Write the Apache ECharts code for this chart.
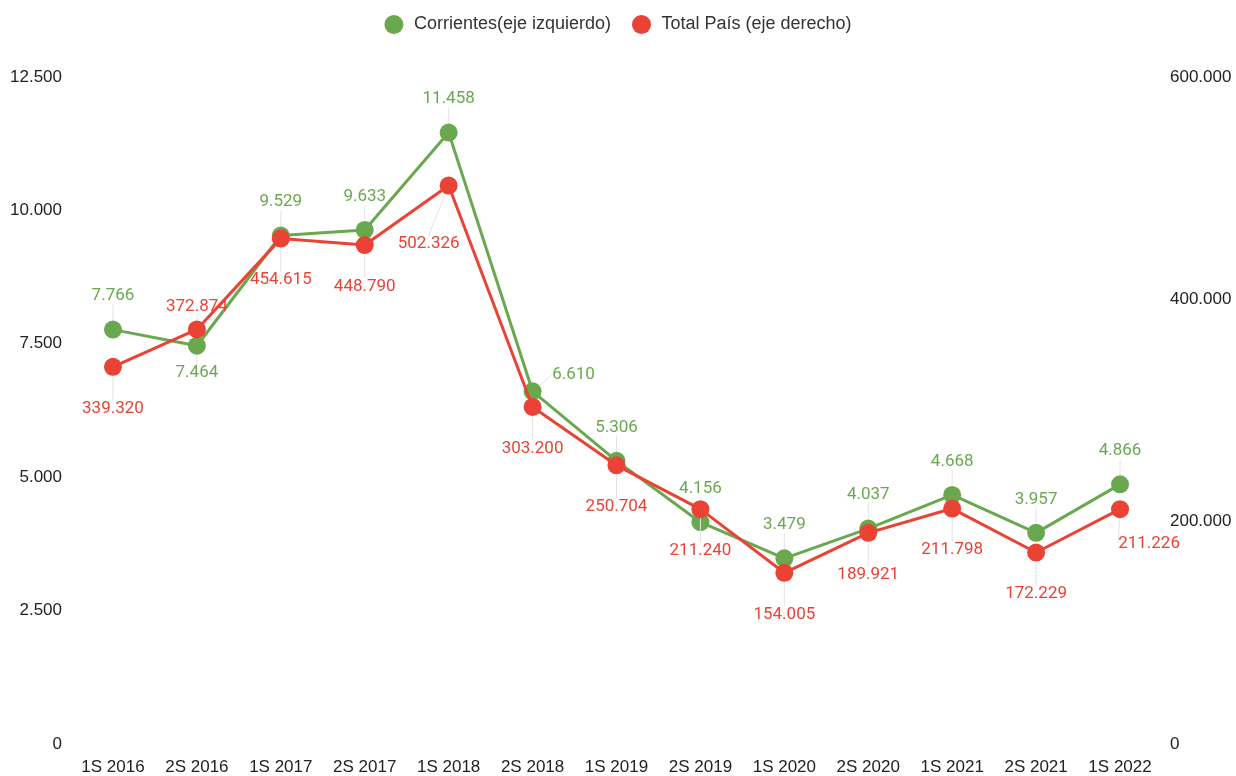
<!DOCTYPE html>
<html lang="es">
<head>
    <meta charset="utf-8">
    <title>Corrientes vs Total País</title>
    <script src="https://cdn.jsdelivr.net/npm/echarts@6/dist/echarts.min.js"></script>
    <style>
        html, body { margin: 0; padding: 0; background: #fff; }
        #chart { width: 1236px; height: 776px; }
    </style>
</head>
<body>
    <div id="chart"></div>
    <script type="text/javascript">

    // datos
    var periodos = ['1S 2016', '2S 2016', '1S 2017', '2S 2017', '1S 2018', '2S 2018', '1S 2019',
                    '2S 2019', '1S 2020', '2S 2020', '1S 2021', '2S 2021', '1S 2022'];
    var corrientes = [7766, 7464, 9529, 9633, 11458, 6610, 5306, 4156, 3479, 4037, 4668, 3957, 4866];
    var totalPais = [339320, 372874, 454615, 448790, 502326, 303200, 250704, 211240, 154005, 189921, 211798, 172229, 211226];

    var VERDE = '#6aa84f', ROJO = '#ea4335';

    // formato con punto de miles
    function miles(v) {
        return String(Math.round(v)).replace(/\B(?=(\d{3})+(?!\d))/g, '.');
    }

    // corrimiento de cada etiqueta (todas parten arriba del punto)
    function layoutVerde(p) {
        if (p.dataIndex === 1) return { dy: 49 };          // 7.464 abajo
        if (p.dataIndex === 5) return { dx: 41, dy: 5 };   // 6.610 a la derecha
        return { dy: -12 };
    }
    function layoutRojo(p) {
        if (p.dataIndex === 1) return { dy: -1 };          // 372.874 arriba
        if (p.dataIndex === 4) return { dx: -20, dy: 80 }; // 502.326
        if (p.dataIndex === 12) return { dx: 29, dy: 56 }; // 211.226
        return { dy: 63 };
    }

    var chart = echarts.init(document.getElementById('chart'));
    chart.setOption({
        animation: false,
        textStyle: { fontFamily: 'Liberation Sans, Arial, sans-serif' },
        legend: {
            top: 10,
            left: 'center',
            icon: 'circle',
            itemWidth: 30,
            itemHeight: 19,
            itemGap: 21,
            textStyle: { fontSize: 18, color: '#333' },
            data: ['Corrientes(eje izquierdo)', 'Total País (eje derecho)']
        },
        grid: { left: 71, right: 74, top: 77, bottom: 31 },
        xAxis: {
            type: 'category',
            data: periodos,
            axisLine: { show: false },
            axisTick: { show: false },
            axisLabel: { fontSize: 17, color: '#222', margin: 15 }
        },
        yAxis: [{
            type: 'value',
            min: 0, max: 12500, interval: 2500,
            splitLine: { show: false },
            axisLabel: { fontSize: 17, color: '#222', margin: 9, formatter: miles }
        }, {
            type: 'value',
            min: 0, max: 600000, interval: 200000,
            splitLine: { show: false },
            axisLabel: { fontSize: 17, color: '#222', margin: 8, formatter: miles }
        }],
        series: [{
            name: 'Corrientes(eje izquierdo)',
            type: 'line',
            yAxisIndex: 0,
            data: corrientes,
            symbol: 'circle',
            symbolSize: 18,
            z: 2,
            itemStyle: { color: VERDE },
            lineStyle: { color: VERDE, width: 3 },
            label: {
                show: true, position: 'top', distance: 4,
                fontFamily: 'Roboto', fontSize: 17, color: VERDE,
                formatter: function (p) { return miles(p.value); }
            },
            labelLayout: layoutVerde,
            labelLine: { show: true, lineStyle: { color: '#e3e3e3', width: 1 } }
        }, {
            name: 'Total País (eje derecho)',
            type: 'line',
            yAxisIndex: 1,
            data: totalPais,
            symbol: 'circle',
            symbolSize: 18,
            z: 3,
            itemStyle: { color: ROJO },
            lineStyle: { color: ROJO, width: 3 },
            label: {
                show: true, position: 'top', distance: 4,
                fontFamily: 'Roboto', fontSize: 17, color: ROJO,
                formatter: function (p) { return miles(p.value); }
            },
            labelLayout: layoutRojo,
            labelLine: { show: true, lineStyle: { color: '#e3e3e3', width: 1 } }
        }]
    });

    </script>
</body>
</html>
